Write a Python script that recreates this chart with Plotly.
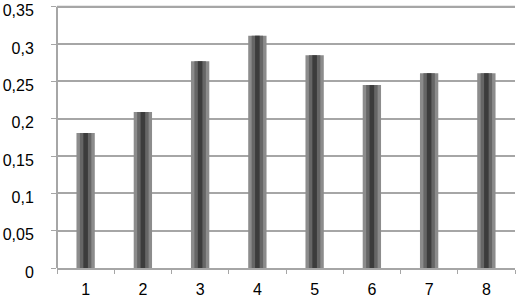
import plotly.graph_objects as go

categories = ["1", "2", "3", "4", "5", "6", "7", "8"]
values = [0.181, 0.209, 0.277, 0.311, 0.285, 0.245, 0.261, 0.261]
y_ticks = [0, 0.05, 0.1, 0.15, 0.2, 0.25, 0.3, 0.35]
y_tick_labels = ["0", "0,05", "0,1", "0,15", "0,2", "0,25", "0,3", "0,35"]

fig = go.Figure()
for w, c in [(0.32, "#8c8c8c"), (0.2, "#666666"), (0.08, "#3c3c3c")]:
    fig.add_trace(go.Bar(x=categories, y=values, width=w, marker=dict(color=c, line=dict(width=0)),
                         showlegend=False, hoverinfo="skip", cliponaxis=False))

# y axis line drawn only up to the top tick, and the top gridline
fig.add_shape(type="line", xref="paper", yref="y", x0=0, x1=0, y0=0, y1=y_ticks[-1],
              line=dict(color="#a6a6a6", width=2))
fig.add_shape(type="line", xref="paper", yref="y", x0=0, x1=1, y0=y_ticks[-1], y1=y_ticks[-1],
              line=dict(color="#a6a6a6", width=2), layer="below")

fig.update_layout(
    barmode="overlay",
    width=523, height=302,
    margin=dict(l=57, r=8, t=0, b=34, autoexpand=False),
    paper_bgcolor="white", plot_bgcolor="white",
    font=dict(family="Liberation Sans", size=16, color="#000000"),
    xaxis=dict(type="category", showgrid=False, showline=True, linecolor="#a6a6a6", linewidth=2,
               ticks="outside", tickson="boundaries", ticklen=4, tickcolor="#a6a6a6",
               automargin=False, ticklabelstandoff=6),
    yaxis=dict(range=[0, 0.359], tickvals=y_ticks, ticktext=y_tick_labels, showgrid=True,
               gridcolor="#a6a6a6", gridwidth=2, showline=False,
               ticks="outside", ticklen=5, tickcolor="#a6a6a6", zeroline=False,
               automargin=False, ticklabelstandoff=14, ticklabeloverflow="allow",
               ticklabelshift=4),
)
fig.write_html("out.html", config={"displayModeBar": False},
               post_script="document.body.style.margin='0';")
